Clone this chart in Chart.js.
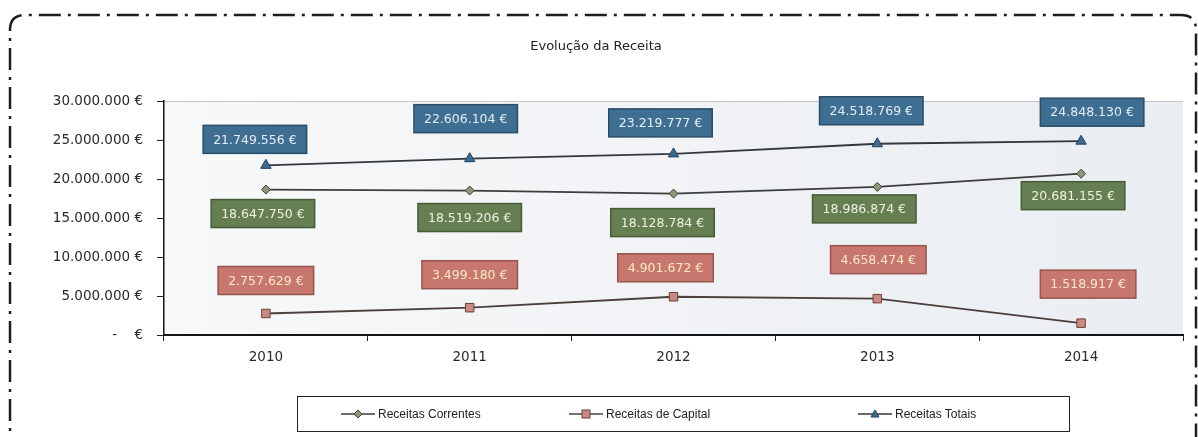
<!DOCTYPE html>
<html>
<head>
<meta charset="utf-8">
<script src="https://cdn.jsdelivr.net/npm/chart.js@4.4.1/dist/chart.umd.min.js"></script>
<style>
  html, body { margin: 0; background: #fff; }
  #wrap { position: relative; width: 1198px; height: 437px; overflow: hidden; }
  #legend {
    position: absolute; left: 297px; top: 396px; width: 771px; height: 34px;
    border: 1.5px solid #222; font: 12px "Liberation Sans Narrow", "Liberation Sans", sans-serif; color: #222;
  }
  #legend .item { position: absolute; top: 10px; display: flex; align-items: center; white-space: nowrap; }
  #legend svg { margin-right: 3px; }
</style>
</head>
<body>
<div id="wrap">
  <canvas id="chart"></canvas>
  <div id="legend"></div>
</div>
<script>
  const years = ["2010", "2011", "2012", "2013", "2014"];
  const receitasCorrentes = [18647750, 18519206, 18128784, 18986874, 20681155];
  const receitasCapital = [2757629, 3499180, 4901672, 4658474, 1518917];
  const receitasTotais = [21749556, 22606104, 23219777, 24518769, 24848130];
  const yMax = 30000000;
  const yStep = 5000000;
  const seriesNames = ["Receitas Correntes", "Receitas de Capital", "Receitas Totais"];

  // label box nudges (px from the point), one list per series
  const labelNudge = [
    [[-3, 24], [0, 27], [-11, 29], [-13, 22], [-8, 22]],
    [[0, -33], [0, -33], [-8, -29], [1, -39], [7, -39]],
    [[-11, -26], [-4, -40], [-13, -31], [-6, -33], [11, -29]],
  ];
  const labelStyle = [
    { fill: "#667f52", stroke: "#465a38", text: "#eef0df" },
    { fill: "#c8776f", stroke: "#98544e", text: "#fbe8c6" },
    { fill: "#3f6e93", stroke: "#2a4d68", text: "#e4edf5" },
  ];
  const markerStyle = [
    { shape: "rectRot", fill: "#8c967a", border: "#3d4433", radius: 4.5 },
    { shape: "rect", fill: "#c98a82", border: "#6e3d38", radius: 6 },
    { shape: "triangle", fill: "#3f6a8f", border: "#24425c", radius: 6 },
  ];
  const lineColors = ["#3d3d3d", "#4a3f3d", "#33383d"];

  const fontFamily = '"DejaVu Sans", sans-serif';

  function euro(v) {
    return String(v).replace(/\B(?=(\d{3})+(?!\d))/g, ".") + " €";
  }

  const frame = {
    id: "frame",
    beforeDraw(chart) {
      const { ctx, chartArea: a } = chart;
      // plot background
      const g = ctx.createLinearGradient(a.left, 0, a.right, 0);
      g.addColorStop(0, "#f7f8f9");
      g.addColorStop(1, "#eaeef2");
      ctx.save();
      ctx.fillStyle = g;
      ctx.fillRect(a.left, a.top, a.right - a.left, a.bottom - a.top);
      // dash-dot outer border
      ctx.strokeStyle = "#1e1e1e";
      ctx.lineWidth = 2.5;
      ctx.setLineDash([22, 7, 3, 7]);
      const x0 = 10, y0 = 15, x1 = 1196, y1 = 460, r = 15;
      ctx.beginPath();
      ctx.moveTo(x0, y1);
      ctx.lineTo(x0, y0 + r);
      ctx.quadraticCurveTo(x0, y0, x0 + r, y0);
      ctx.lineTo(x1 - r, y0);
      ctx.quadraticCurveTo(x1, y0, x1, y0 + r);
      ctx.lineTo(x1, y1);
      ctx.stroke();
      ctx.restore();
    },
  };

  const valueLabels = {
    id: "valueLabels",
    afterDatasetsDraw(chart) {
      const ctx = chart.ctx;
      ctx.save();
      ctx.font = "12.5px " + fontFamily;
      ctx.textAlign = "center";
      ctx.textBaseline = "middle";
      chart.data.datasets.forEach((ds, i) => {
        const meta = chart.getDatasetMeta(i);
        const st = labelStyle[i];
        meta.data.forEach((pt, j) => {
          const text = euro(ds.data[j]);
          const w = ctx.measureText(text).width + 20;
          const h = 28;
          const cx = pt.x + labelNudge[i][j][0];
          const cy = pt.y + labelNudge[i][j][1];
          ctx.fillStyle = st.fill;
          ctx.strokeStyle = st.stroke;
          ctx.lineWidth = 1.5;
          ctx.fillRect(cx - w / 2, cy - h / 2, w, h);
          ctx.strokeRect(cx - w / 2, cy - h / 2, w, h);
          ctx.fillStyle = st.text;
          ctx.fillText(text, cx, cy + 1);
        });
      });
      ctx.restore();
    },
  };

  const seriesData = [receitasCorrentes, receitasCapital, receitasTotais];

  const chart = new Chart(document.getElementById("chart"), {
    type: "line",
    data: {
      labels: years,
      datasets: seriesData.map((data, i) => ({
        label: seriesNames[i],
        data,
        borderColor: lineColors[i],
        borderWidth: 1.8,
        tension: 0,
        pointStyle: markerStyle[i].shape,
        pointRadius: markerStyle[i].radius,
        pointBackgroundColor: markerStyle[i].fill,
        pointBorderColor: markerStyle[i].border,
        pointBorderWidth: 1,
      })),
    },
    options: {
      responsive: true,
      maintainAspectRatio: false,
      animation: false,
      layout: { padding: { left: 9, right: 15, top: 39, bottom: 62 } },
      plugins: {
        legend: { display: false },
        tooltip: { enabled: false },
        title: {
          display: true,
          text: "Evolução da Receita",
          color: "#222",
          font: { family: fontFamily, size: 13, weight: "normal" },
          padding: { top: 0, bottom: 46.4 },
        },
      },
      scales: {
        x: {
          offset: true,
          grid: { offset: true, drawOnChartArea: false, drawTicks: true, tickLength: 6, color: "#222" },
          border: { color: "#151515", width: 2 },
          ticks: { color: "#2a2a2a", padding: 8, font: { family: fontFamily, size: 13.5 } },
          afterFit: (s) => { s.height = 40; },
        },
        y: {
          min: 0,
          max: yMax,
          grid: {
            drawTicks: true,
            tickLength: 7,
            tickColor: "#222",
            color: (c) => (c.tick && c.tick.value === yMax ? "#c4c6c9" : "rgba(0,0,0,0)"),
          },
          border: { color: "#151515", width: 1.5 },
          ticks: {
            stepSize: yStep,
            color: "#2a2a2a",
            padding: 14,
            font: { family: fontFamily, size: 13.5 },
            callback: (v) => (v === 0 ? "-    €" : euro(v)),
          },
          afterFit: (s) => { s.width = 155; },
        },
      },
    },
    plugins: [frame, valueLabels],
  });

  // legend, built from the chart's datasets
  const legendLeft = [43, 271, 560];
  const legendEl = document.getElementById("legend");
  chart.data.datasets.forEach((ds, i) => {
    const m = markerStyle[i];
    let shape;
    if (m.shape === "rect") {
      shape = `<rect x="13" y="2" width="8" height="8" fill="${m.fill}" stroke="${m.border}"/>`;
    } else if (m.shape === "rectRot") {
      shape = `<polygon points="17,2 21,6 17,10 13,6" fill="${m.fill}" stroke="${m.border}"/>`;
    } else {
      shape = `<polygon points="17,2 21,9 13,9" fill="${m.fill}" stroke="${m.border}"/>`;
    }
    const item = document.createElement("div");
    item.className = "item";
    item.style.left = legendLeft[i] + "px";
    item.innerHTML =
      `<svg width="34" height="12"><line x1="0" y1="6" x2="34" y2="6" stroke="${ds.borderColor}" stroke-width="1.6"/>${shape}</svg>` +
      `<span>${ds.label}</span>`;
    legendEl.appendChild(item);
  });
</script>
</body>
</html>
